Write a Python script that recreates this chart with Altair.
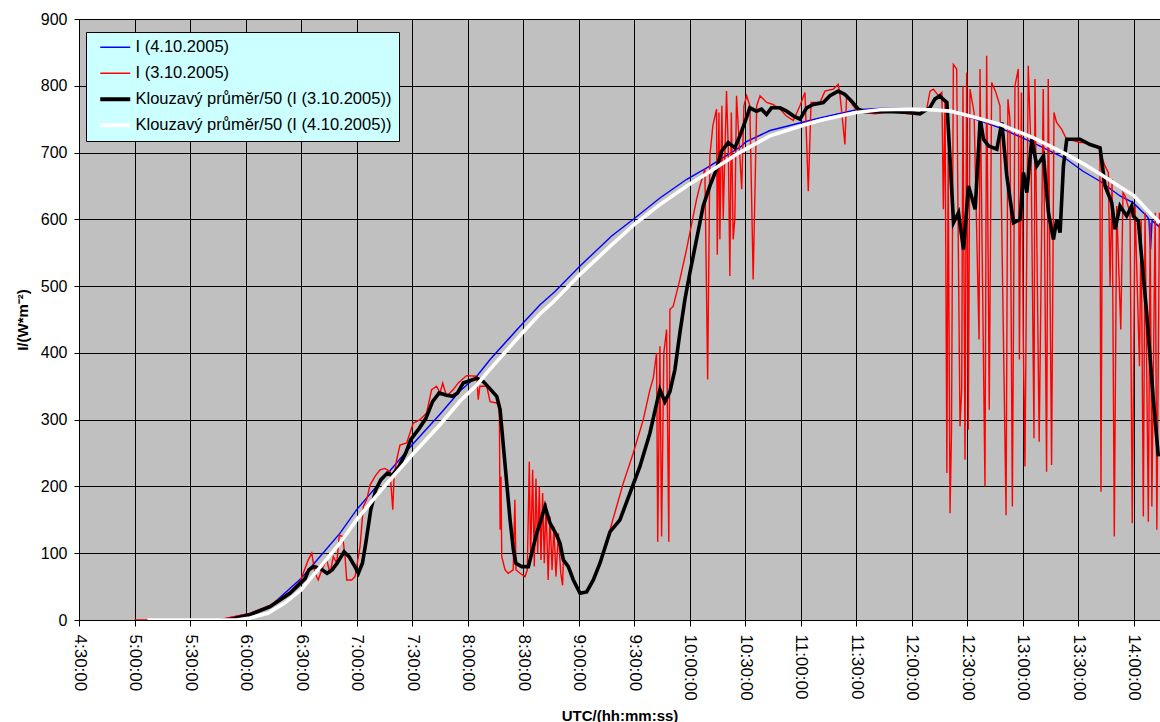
import altair as alt
import pandas as pd

# Series names as shown in the legend (draw order: first at the bottom)
SERIES = [
    "I (4.10.2005)",
    "I (3.10.2005)",
    "Klouzavý průměr/50 (I (3.10.2005))",
    "Klouzavý průměr/50 (I (4.10.2005))",
]
COLORS = ["#0000FF", "#FF0000", "#000000", "#FFFFFF"]
WIDTHS = [1.4, 1.4, 3.6, 3.6]

# Times are minutes after midnight UTC, values are irradiance in W/m^2.

# I (4.10.2005) - clear day
blue_t = [307, 346, 362.4, 373.2, 390, 400.3, 411.1, 420, 435.4, 450, 465.1, 475.9, 485,
          492.2, 508.4, 519.2, 527.3, 540.8, 557.9, 570.5, 584, 598.5, 609.3, 627.3, 630.5,
          643.5, 660.6, 670.5, 690.3, 702.9, 719.2, 730, 740.8, 754.3, 767.8, 785.6, 803.8,
          812.7, 821.9, 832.7, 839.7, 847.1, 848.3, 849.2, 850, 854.3]
blue_v = [0, 0, 10, 20, 62, 95, 130, 165, 215, 262, 308, 343, 365,
          390, 440, 472, 492, 530, 575, 602, 632, 660, 677, 708, 716,
          733, 745, 752, 764, 766, 766, 765, 761, 750, 737, 715, 690,
          672, 657, 635, 625, 605, 600, 555, 598, 588]

# I (3.10.2005) - variable cloudiness
red_t = [300, 307, 345, 362.4, 373.2, 384, 389.5, 391.2, 393.9, 395.8, 397.6, 399.3, 401.2,
         403.9, 405.7, 407.5, 409.3, 410.7, 412.5, 413.8, 414.7, 417.4, 419.2, 421.9, 423.7,
         425.5, 427.3, 430, 432.7, 435.4, 438.1, 439.6, 440.3, 441.7, 443.5, 447.1, 450.7,
         454.3, 457.9, 460.6, 463.3, 465.1, 466.6, 468.7, 472.3, 475, 479.5, 485, 485.8,
         486.7, 490.4, 492.2, 495.8, 497.2, 497.6, 498.1, 498.5, 500.3, 502, 504.7, 505.6,
         506.2, 508.4, 511.1, 512.3, 513.4, 514.1, 515.2, 516.1, 517, 517.9, 518.8, 519.7,
         520.6, 521.5, 522.4, 523.6, 524.6, 525.7, 526.7, 527.8, 529.1, 530.4, 531.4, 531.8,
         534.5, 537.2, 540.8, 544.4, 548, 551.6, 557, 564.2, 569.6, 575, 578.6, 580.4,
         582.2, 582.8, 584, 584.9, 586.1, 587.6, 588.8, 589.4, 591.2, 594.8, 598.4, 600.2,
         603.8, 605.6, 608.3, 609.8, 611, 612.6, 614.6, 615, 615.9, 616.4, 617.5, 618.2,
         620, 621, 621.8, 622.6, 623.6, 624.5, 625.4, 626.7, 628.2, 629.4, 630.9, 632.6,
         634.4, 636.3, 638.1, 641.7, 645.1, 648.9, 652.2, 656.1, 659.7, 662.4, 664.2, 665.7,
         666.9, 670.5, 673.2, 677.7, 680.4, 681.3, 684, 684.9, 688.5, 691.2, 695.7, 700.2,
         704.7, 709.4, 713.7, 718.1, 722.8, 725.6, 728.2, 730, 731.8, 734.5, 736.4, 737.2,
         738.1, 739.1, 739.8, 740.8, 741.6, 742.6, 744.4, 746.2, 747.1, 747.8, 748.9, 749.8,
         750.7, 751.6, 753.8, 756.5, 757, 759.7, 760.6, 762, 763.3, 765.6, 767.8, 771.1,
         772.1, 773.2, 774.5, 775.9, 777.7, 778.3, 779.4, 780.4, 781.3, 783.1, 784.6, 786.2,
         786.7, 789, 791.2, 793, 793.9, 795.7, 797, 798.4, 801.1, 803.8, 807.3, 811,
         814.6, 818.2, 821.8, 822.4, 823.2, 824.6, 826.4, 827.3, 828.4, 829.6, 830.9, 833.1,
         834.3, 835.4, 838.1, 839.3, 840.8, 843.2, 844.1, 845.3, 846.2, 848, 849, 849.9,
         851.7, 852.6, 854]
red_v = [0, 0, 0, 10, 22, 42, 58, 70, 90, 100, 70, 60, 75,
         90, 70, 95, 85, 127, 125, 95, 60, 60, 65, 110, 170,
         180, 202, 215, 225, 227, 222, 165, 215, 240, 262, 265, 295,
         300, 310, 345, 350, 340, 355, 335, 345, 355, 366, 365, 330,
         350, 350, 327, 325, 320, 135, 215, 95, 75, 70, 75, 180,
         75, 70, 65, 75, 237, 90, 225, 80, 212, 100, 200, 90,
         190, 85, 175, 60, 155, 75, 140, 65, 130, 70, 52, 90,
         80, 60, 40, 42, 60, 85, 135, 205, 250, 300, 345, 362,
         400, 117, 410, 125, 400, 435, 117, 465, 470, 510, 555, 580,
         630, 650, 675, 360, 695, 740, 765, 547, 760, 570, 770, 600,
         792, 700, 515, 760, 570, 600, 785, 720, 645, 770, 785, 770,
         510, 770, 785, 775, 772, 765, 755, 748, 770, 790, 642, 775,
         775, 775, 792, 795, 802, 787, 712, 785, 770, 760, 760, 758,
         760, 762, 760, 758, 757, 760, 765, 792, 795, 785, 790, 615,
         780, 220, 700, 160, 280, 832, 825, 290, 345, 800, 240, 820,
         285, 795, 760, 420, 825, 200, 845, 315, 805, 790, 770, 157,
         780, 750, 170, 800, 825, 390, 790, 420, 230, 830, 700, 272,
         810, 267, 795, 222, 810, 232, 760, 745, 735, 720, 718, 715,
         715, 710, 705, 192, 690, 680, 670, 500, 660, 125, 620, 435,
         640, 635, 610, 145, 620, 380, 600, 155, 610, 147, 595, 170,
         610, 135, 610]

# Klouzavý průměr/50 (I (3.10.2005))
black_t = [350.5, 362.4, 373.2, 384, 392.2, 394.2, 396.9, 400.5, 404.1, 406.8, 409.5, 413.3,
           416, 418.7, 421, 423.2, 425, 427.7, 430.4, 433.1, 436.7, 439.4, 443, 446.6,
           449.3, 453.9, 457.5, 461.1, 464.7, 468.3, 471.9, 474.6, 477.7, 485, 488.6, 495.8,
           497.6, 499.4, 501.2, 503, 504.8, 506.2, 509.3, 512.9, 514.7, 517.4, 519.2, 521.9,
           524.6, 528.2, 530, 531.8, 534.5, 537.2, 540.8, 544.4, 548, 551.6, 557, 562.4,
           567.8, 573.2, 578.6, 583.1, 584, 586.7, 589.4, 592.1, 594.8, 597.5, 600.2, 603.8,
           607.4, 611, 614.6, 617.3, 620.9, 624.5, 627.2, 629.9, 632.6, 636.2, 638.9, 641.6,
           644.3, 648.9, 652.5, 656.1, 659.7, 663.3, 666.9, 672.3, 675.9, 680.4, 684, 687.6,
           691.2, 694.8, 701.1, 710.1, 719.1, 724.5, 729.9, 732.6, 735.3, 737, 739.1, 742.7,
           745.4, 748.1, 750.8, 754.4, 757.1, 758.9, 761.6, 766.1, 768.8, 771.5, 775.1, 778.7,
           780.5, 782.3, 785, 787.7, 791.3, 794, 796.7, 798.5, 800.3, 802.1, 803.9, 811,
           816.5, 821.9, 824.6, 828.2, 830, 832.7, 836.3, 839, 839.9, 842.6, 847.1, 850.7,
           853.4]
black_v = [0, 8, 20, 40, 62, 75, 80, 77, 70, 75, 85, 102,
           95, 82, 70, 85, 115, 165, 195, 210, 220, 217, 230, 250,
           270, 287, 302, 327, 340, 337, 335, 340, 355, 362, 357, 335,
           315, 260, 205, 150, 105, 85, 80, 80, 100, 130, 145, 170,
           145, 127, 115, 90, 80, 60, 40, 42, 60, 85, 132, 150,
           190, 230, 280, 335, 345, 327, 342, 375, 430, 480, 520, 570,
           620, 650, 675, 702, 715, 707, 725, 745, 767, 762, 765, 757,
           767, 767, 762, 755, 750, 767, 772, 775, 785, 792, 787, 777,
           765, 761, 761, 761, 760, 758, 767, 780, 785, 780, 775, 595,
           610, 555, 650, 615, 750, 720, 710, 705, 745, 665, 595, 600,
           670, 640, 720, 680, 695, 610, 570, 600, 580, 680, 720, 720,
           712, 707, 650, 625, 585, 620, 605, 620, 605, 597, 460, 330,
           245]

# Klouzavý průměr/50 (I (4.10.2005))
white_t = [307, 355, 362.5, 372, 381, 390, 400, 411, 420, 435, 450, 465, 476, 485, 492,
           508, 519, 527, 541, 558, 570.5, 584, 598.5, 609, 627, 643.5, 660.6, 670.5, 690,
           703, 719, 730, 741, 754, 768, 786, 804, 813, 822, 833, 840, 847, 854.3]
white_v = [0, 0, 3, 10, 25, 45, 78, 115, 150, 200, 247, 292, 328, 352, 375,
           425, 458, 478, 518, 562, 593, 622, 650, 668, 700, 725, 740, 748, 760,
           764, 765, 764, 762, 753, 742, 722, 697, 683, 668, 648, 636, 615, 595]

frames = []
for name, ts, vs in zip(SERIES, [blue_t, red_t, black_t, white_t],
                        [blue_v, red_v, black_v, white_v]):
    frames.append(pd.DataFrame({"t": ts, "v": vs, "series": name}))
df = pd.concat(frames, ignore_index=True)

FONT = "Liberation Sans, Arial, sans-serif"
TICKS = list(range(270, 841, 30))

x_enc = alt.X(
    "t:Q",
    scale=alt.Scale(domain=[270, 854.3], nice=False, zero=False),
    axis=alt.Axis(
        values=TICKS,
        labelExpr="floor(datum.value / 60) + ':' + (datum.value % 60 < 10 ? '0' : '') + (datum.value % 60) + ':00'",
        labelAngle=90,
        labelFontSize=17,
        labelPadding=8,
        tickSize=6,
        title="UTC/(hh:mm:ss)",
        titleFontSize=15,
        titleFontWeight="bold",
        titleY=100,
        titleBaseline="alphabetic",
    ),
)
y_enc = alt.Y(
    "v:Q",
    scale=alt.Scale(domain=[0, 900], nice=False),
    axis=alt.Axis(
        values=list(range(0, 901, 100)),
        labelFontSize=16,
        labelPadding=7,
        tickSize=5,
        title="I/(W*m⁻²)",
        titleFontSize=15,
        titleFontWeight="bold",
        titlePadding=10,
    ),
)
color_enc = alt.Color(
    "series:N",
    scale=alt.Scale(domain=SERIES, range=COLORS),
    legend=alt.Legend(
        title=None,
        orient="none",
        legendX=7,
        legendY=13,
        fillColor="#CCFFFF",
        strokeColor="#000000",
        padding=7,
        symbolType="stroke",
        symbolSize=900,
        symbolOffset=14,
        symbolStrokeWidth=alt.ExprRef("datum.index < 2 ? 1.5 : 4"),
        labelOffset=12,
        rowPadding=9,
        labelFontSize=16.5,
        labelFont=FONT,
        labelColor="#000000",
        labelLimit=400,
    ),
)

layers = []
for name, w in zip(SERIES, WIDTHS):
    layers.append(
        alt.Chart(df)
        .transform_filter(alt.datum.series == name)
        .mark_line(strokeWidth=w, clip=True)
        .encode(x=x_enc, y=y_enc, color=color_enc)
    )

chart = (
    alt.layer(*layers)
    .properties(
        width=1081,
        height=601,
        autosize=alt.AutoSizeParams(type="none"),
        padding={"left": 79, "top": 19, "right": 0, "bottom": 102},
        background="#FFFFFF",
    )
    .configure_view(fill="#C0C0C0", stroke="transparent")
    .configure_axis(
        gridColor="#000000",
        gridWidth=1,
        gridOpacity=1,
        domainColor="#000000",
        domainWidth=1,
        tickColor="#000000",
        labelColor="#000000",
        titleColor="#000000",
        labelFont=FONT,
        titleFont=FONT,
    )
)

chart.save("out.html", embed_options={"renderer": "svg", "actions": False})
